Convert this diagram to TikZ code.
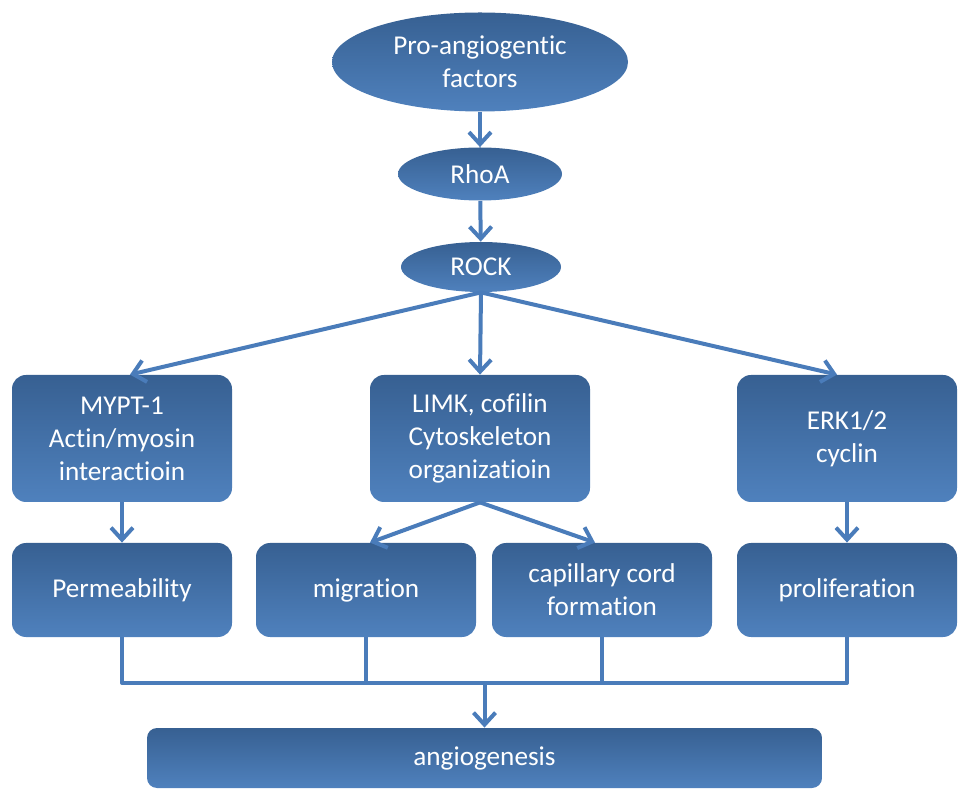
\documentclass[tikz,border=0pt]{standalone}
\usepackage{fontspec}
\setmainfont{Carlito}[Ligatures=NoCommon]
\usetikzlibrary{shapes.geometric,arrows.meta,calc}
\definecolor{boxtop}{RGB}{55,96,146}
\definecolor{boxbot}{RGB}{79,129,189}
\definecolor{linkc}{RGB}{74,124,186}
\begin{document}
\begin{tikzpicture}[x=0.5pt,y=-0.5pt,font=\fontsize{13.6}{16.5}\selectfont,line join=round,
	>={Straight Barb[length=6pt,width=11pt]},
	oval/.style={ellipse,shade,top color=boxtop,bottom color=boxbot,text=white,align=center,inner sep=0pt},
	card/.style={rectangle,rounded corners=7pt,shade,top color=boxtop,bottom color=boxbot,text=white,align=center,inner sep=0pt,minimum width=110pt},
	link/.style={draw=linkc,line width=2pt}]
	\useasboundingbox (0,0) rectangle (969,801);
	\node[oval,minimum width=148pt,minimum height=49.5pt] (pro) at (480,62) {Pro-angiogentic\\factors};
	\node[oval,minimum width=82pt,minimum height=26.5pt] (rhoa) at (480,174) {RhoA};
	\node[oval,minimum width=80pt,minimum height=25pt] (rock) at (481,267) {ROCK};
	\node[card,minimum height=63.5pt] (mypt) at (122,438.5) {MYPT-1\\Actin/myosin\\interactioin};
	\node[card,minimum height=63.5pt] (limk) at (480,438.5) {LIMK, cofilin\\Cytoskeleton\\organizatioin};
	\node[card,minimum height=63.5pt] (erk) at (847,438.5) {ERK1/2\\cyclin};
	\node[card,minimum height=47pt] (perm) at (122,590) {Permeability};
	\node[card,minimum height=47pt] (migr) at (366,590) {migration};
	\node[card,minimum height=47pt] (capi) at (602,590) {capillary cord\\formation};
	\node[card,minimum height=47pt] (prolif) at (847,590) {proliferation};
	\node[card,rounded corners=5pt,minimum width=337.5pt,minimum height=30pt] (angio) at (484.5,758) {angiogenesis};
	\coordinate (join) at (484.5,683);
	\draw[link,->] (pro) -- (rhoa);
	\draw[link,->] (rhoa) -- (rock);
	\draw[link,->] (rock.south) -- ($(mypt.north)+(8,0)$);
	\draw[link,->] (rock.south) -- (limk.north);
	\draw[link,->] (rock.south) -- ($(erk.north)+(-10,0)$);
	\draw[link,->] (mypt) -- (perm);
	\draw[link,->] (erk) -- (prolif);
	\draw[link,->] (limk.south) -- ($(migr.north)+(4,0)$);
	\draw[link,->] (limk.south) -- ($(capi.north)+(-7,0)$);
	\draw[link] (perm.south) |- (join) -| (prolif.south);
	\draw[link] (migr.south) -- (migr.south |- join);
	\draw[link] (capi.south) -- (capi.south |- join);
	\draw[link,->] (join) -- (angio.north -| join);
\end{tikzpicture}
\end{document}
